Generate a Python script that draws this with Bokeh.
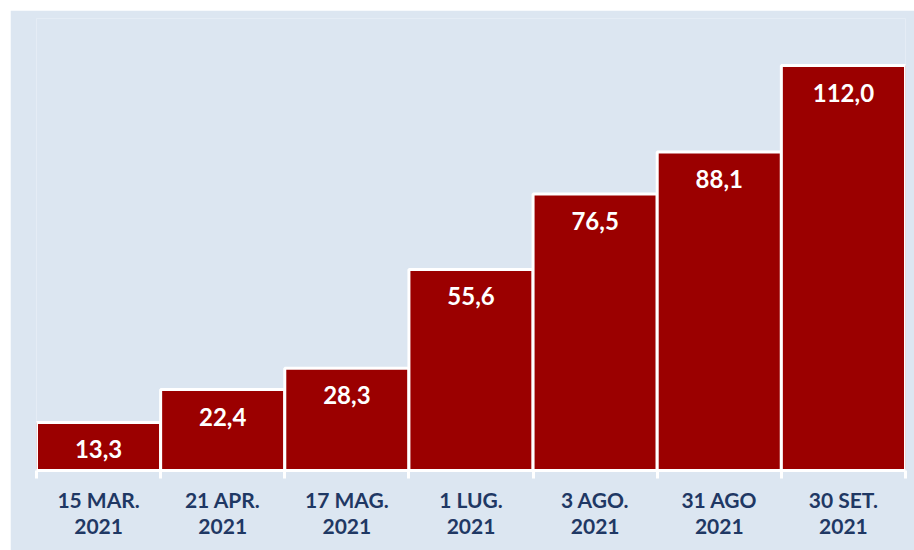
from bokeh.plotting import figure
from bokeh.models import ColumnDataSource, FixedTicker, Range1d
from bokeh.core.properties import value
from bokeh.embed import file_html
from bokeh.resources import INLINE

categories = ["15 MAR.\n2021", "21 APR.\n2021", "17 MAG.\n2021", "1 LUG.\n2021",
              "3 AGO.\n2021", "31 AGO\n2021", "30 SET.\n2021"]
values = [13.3, 22.4, 28.3, 55.6, 76.5, 88.1, 112.0]
value_labels = ["13,3", "22,4", "28,3", "55,6", "76,5", "88,1", "112,0"]

BG = "#dce6f1"
BAR = "#9b0000"
NAVY = "#1f3864"

xs = [i + 0.5 for i in range(len(categories))]
src = ColumnDataSource(dict(x=xs, top=values, lab=value_labels))

p = figure(width=904, height=540, output_backend="svg", toolbar_location=None,
           x_range=Range1d(0, len(categories)), y_range=Range1d(0, 125),
           min_border_left=26, min_border_right=9, min_border_top=8, min_border_bottom=80)
p.margin = (10, 0, 0, 10)
p.background_fill_color = BG
p.border_fill_color = BG
p.outline_line_color = None
p.grid.visible = False
p.yaxis.visible = False

p.vbar(x="x", top="top", bottom=0, width=1.0, source=src,
       fill_color=BAR, line_color="white", line_width=3)
p.text(x="x", y="top", text="lab", source=src, y_offset=27,
       text_align="center", text_baseline="middle", text_color="white",
       text_font=value("Lato"), text_font_style="bold", text_font_size="24px")

ax = p.xaxis[0]
ax.ticker = FixedTicker(ticks=xs, minor_ticks=list(range(len(categories) + 1)))
ax.major_label_overrides = {x: c for x, c in zip(xs, categories)}
ax.axis_line_color = "white"
ax.axis_line_width = 3
ax.major_tick_line_color = None
ax.major_tick_out = 0
ax.major_tick_in = 0
ax.minor_tick_line_color = "white"
ax.minor_tick_line_width = 3
ax.minor_tick_out = 8
ax.minor_tick_in = 0
ax.major_label_standoff = 8
ax.major_label_text_font = "Lato"
ax.major_label_text_font_style = "bold"
ax.major_label_text_font_size = "21px"
ax.major_label_text_color = NAVY
ax.major_label_text_line_height = 1.07

open("out.html", "w").write(file_html(p, INLINE))
